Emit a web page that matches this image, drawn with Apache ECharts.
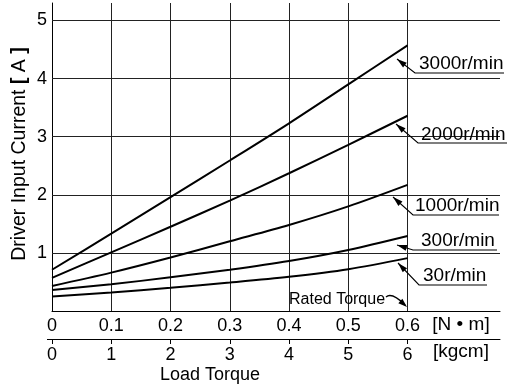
<!DOCTYPE html>
<html>
<head>
<meta charset="utf-8">
<script src="https://cdn.jsdelivr.net/npm/echarts@6/dist/echarts.min.js"></script>
<style>
html,body{margin:0;padding:0;background:#fff;}
#chart{width:510px;height:392px;}
</style>
</head>
<body>
<div id="chart"></div>
<script>
// ---- data ----
var torqueNm = [0, 0.1, 0.2, 0.3, 0.4, 0.5, 0.6];
var rpm3000 = [0.71, 1.33, 1.96, 2.59, 3.23, 3.90, 4.57];
var rpm2000 = [0.57, 1.01, 1.45, 1.90, 2.37, 2.86, 3.36];
var rpm1000 = [0.43, 0.66, 0.92, 1.20, 1.48, 1.80, 2.17];
var rpm300  = [0.36, 0.46, 0.58, 0.71, 0.86, 1.05, 1.29];
var rpm30   = [0.25, 0.32, 0.40, 0.49, 0.59, 0.72, 0.91];
var seriesNames = ['3000r/min', '2000r/min', '1000r/min', '300r/min', '30r/min'];
var nmTicks = [0, 0.1, 0.2, 0.3, 0.4, 0.5, 0.6];
var yTicks = [1, 2, 3, 4, 5];
var kgcmTicks = [0, 1, 2, 3, 4, 5, 6];

var FONT = '"Liberation Sans", Arial, Helvetica, sans-serif';
var chart = echarts.init(document.getElementById('chart'));

function pairs(xs, ys) { return xs.map(function (x, i) { return [x, ys[i]]; }); }
var allSeries = [rpm3000, rpm2000, rpm1000, rpm300, rpm30];

var series = allSeries.map(function (vals, i) {
  return {
    name: seriesNames[i],
    type: 'line',
    xAxisIndex: 0,
    data: pairs(torqueNm, vals),
    smooth: 0.3,
    symbol: 'none',
    lineStyle: { color: '#000', width: 2 },
    silent: true,
    z: 5
  };
});
var gridData = nmTicks.filter(function (t) { return t > 0; }).map(function (t) { return { xAxis: t }; })
  .concat(yTicks.map(function (t) { return { yAxis: t }; }));
series[0].markLine = {
  silent: true,
  symbol: 'none',
  label: { show: false },
  lineStyle: { color: '#222', width: 1, type: 'solid' },
  data: gridData,
  animation: false
};

chart.setOption({
  animation: false,
  backgroundColor: '#fff',
  grid: { left: 52, right: 10, top: 3, bottom: 81 },
  xAxis: [{
    type: 'value', min: 0, max: 0.756, interval: 0.1,
    axisLine: { show: true, lineStyle: { color: '#000', width: 1 } },
    axisTick: { show: false },
    splitLine: { show: false },
    axisLabel: {
      margin: 6, color: '#000', fontSize: 18, fontFamily: FONT,
      customValues: nmTicks,
      formatter: function (v) { return v === 0 ? '0' : v.toFixed(1); }
    }
  }, {
    type: 'value', min: 0, max: 7.56, interval: 1, position: 'bottom', offset: 28,
    axisLine: { show: true, onZero: false, lineStyle: { color: '#000', width: 1 } },
    axisTick: { show: true, length: 5, lineStyle: { color: '#000' }, customValues: kgcmTicks },
    splitLine: { show: false },
    axisLabel: {
      margin: 7, color: '#000', fontSize: 18, fontFamily: FONT,
      customValues: kgcmTicks,
      formatter: function (v) { return String(v); }
    }
  }],
  yAxis: {
    type: 'value', min: 0, max: 5.3, interval: 1,
    axisLine: { show: true, lineStyle: { color: '#000', width: 1 } },
    axisTick: { show: false },
    splitLine: { show: false },
    axisLabel: {
      margin: 5, color: '#000', fontSize: 18, fontFamily: FONT,
      customValues: yTicks,
      formatter: function (v) { return String(v); }
    }
  },
  series: series
});

// ---- annotations (leaders with arrowheads) ----
function arrowHead(tip, from, len, hw) {
  var dx = from[0] - tip[0], dy = from[1] - tip[1];
  var d = Math.sqrt(dx * dx + dy * dy); dx /= d; dy /= d;
  var bx = tip[0] + dx * len, by = tip[1] + dy * len;
  return [[tip[0], tip[1]], [bx - dy * hw, by + dx * hw], [bx + dy * hw, by - dx * hw]];
}
var leaders = [
  { tip: [397, 59],  elbow: [415, 73],  end: 504, tx: 419, ty: 64 },
  { tip: [396, 124], elbow: [418, 143], end: 507, tx: 421, ty: 135 },
  { tip: [393, 197], elbow: [413, 215], end: 499, tx: 415, ty: 206 },
  { tip: [397, 245], elbow: [413, 250], end: 497, tx: 421, ty: 241 },
  { tip: [398, 263], elbow: [419, 285], end: 487, tx: 423, ty: 276 }
];
var g = [];
leaders.forEach(function (L, i) {
  g.push({ type: 'polyline', silent: true, z: 10,
    shape: { points: [L.tip, L.elbow, [L.end, L.elbow[1]]] },
    style: { stroke: '#000', lineWidth: 1.1, fill: null } });
  g.push({ type: 'polygon', silent: true, z: 10,
    shape: { points: arrowHead(L.tip, L.elbow, 10, 3) },
    style: { fill: '#000' } });
  g.push({ type: 'text', silent: true, z: 10, x: L.tx, y: L.ty,
    style: { text: seriesNames[i], fill: '#000', font: '19px ' + FONT, verticalAlign: 'middle', align: 'left' } });
});
// Rated torque
g.push({ type: 'text', silent: true, z: 10, x: 289, y: 300,
  style: { text: 'Rated Torque', fill: '#000', font: '16px ' + FONT, verticalAlign: 'middle', align: 'left' } });
g.push({ type: 'bezierCurve', silent: true, z: 10,
  shape: { x1: 386, y1: 297, cpx1: 392, cpy1: 292, x2: 405, y2: 305 },
  style: { stroke: '#000', lineWidth: 1.5, fill: null } });
g.push({ type: 'polygon', silent: true, z: 10,
  shape: { points: arrowHead([407, 307], [396, 297], 9, 3) },
  style: { fill: '#000' } });
// second axis line start stub
g.push({ type: 'line', silent: true, shape: { x1: 47, y1: 339.5, x2: 52, y2: 339.5 },
  style: { stroke: '#000', lineWidth: 1 } });
// y axis title (rotated)
g.push({ type: 'text', silent: true, x: 20, y: 154, rotation: Math.PI / 2,
  style: {
    text: '{n|Driver Input Current }{b|[}{n| A }{b|]}',
    align: 'center', verticalAlign: 'middle',
    rich: {
      n: { fontSize: 19.5, fontFamily: FONT, fill: '#000' },
      b: { fontSize: 19.5, fontFamily: FONT, fill: '#000', fontWeight: 'bold' }
    }
  } });
// unit labels and axis title
g.push({ type: 'text', silent: true, x: 461, y: 325,
  style: { text: '[N \u2022 m]', fill: '#000', font: '19px ' + FONT, verticalAlign: 'middle', align: 'center' } });
g.push({ type: 'text', silent: true, x: 461, y: 352,
  style: { text: '[kgcm]', fill: '#000', font: '19px ' + FONT, verticalAlign: 'middle', align: 'center' } });
g.push({ type: 'text', silent: true, x: 210, y: 375,
  style: { text: 'Load Torque', fill: '#000', font: '18px ' + FONT, verticalAlign: 'middle', align: 'center' } });
chart.setOption({ graphic: g });
</script>
</body>
</html>
